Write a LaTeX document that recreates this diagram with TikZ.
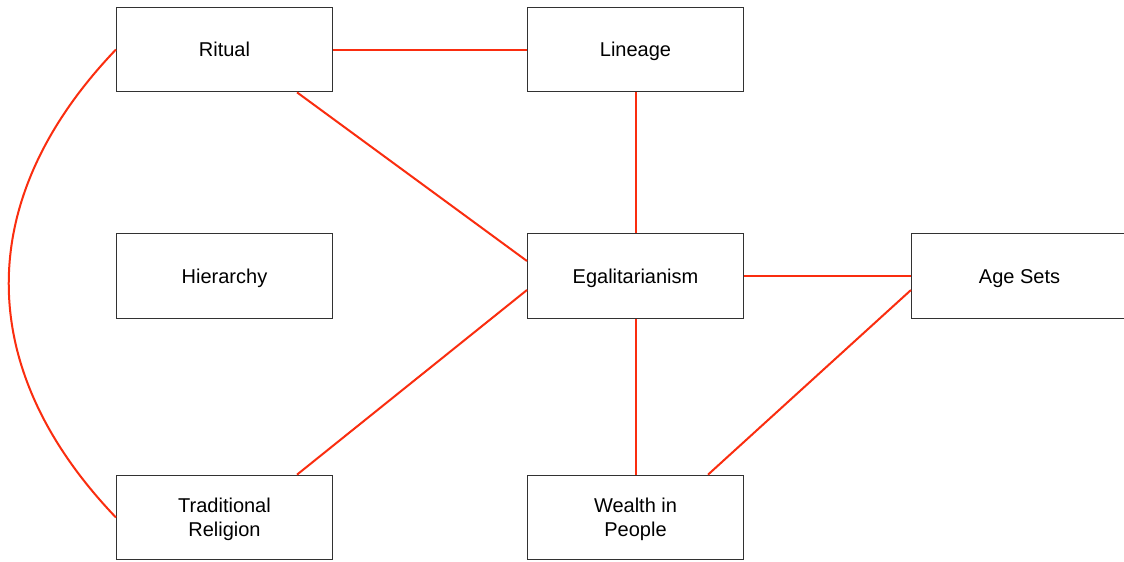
\documentclass[tikz,border=0pt]{standalone}
\usepackage{fontspec}
\setmainfont{Liberation Sans}
\definecolor{boxline}{RGB}{50,50,50}
\definecolor{linkred}{RGB}{250,45,15}
\begin{document}
\begin{tikzpicture}[x=0.75pt,y=-0.75pt,
  concept/.style={draw=boxline,line width=0.8pt,fill=white,minimum width=162pt,minimum height=63.5pt,
    inner sep=0pt,align=center,font=\fontsize{15pt}{18pt}\selectfont,text height=11pt,text depth=0pt},
  twoline/.style={text height=29pt,text depth=0pt},
  link/.style={draw=linkred,line width=1.5pt}]
\useasboundingbox (0,0) rectangle (1124,561);
\fill[white] (0,0) rectangle (1124,561);
\node[concept] (ritual) at (224.5,49.5) {Ritual};
\node[concept] (lineage) at (635.5,49.5) {Lineage};
\node[concept] (hier) at (224.5,276) {Hierarchy};
\node[concept] (egal) at (635.5,276) {Egalitarianism};
\node[concept] (age) at (1019.5,276) {Age Sets};
\node[concept,twoline] (trad) at (224.5,517.5) {Traditional\\Religion};
\node[concept,twoline] (wealth) at (635.5,517.5) {Wealth in\\People};
\draw[link] (ritual.east) -- (lineage.west);
\draw[link] ([xshift=-27pt]ritual.south east) -- ([yshift=11.25pt]egal.west);
\draw[link] (lineage.south) -- (egal.north);
\draw[link] (egal.east) -- (age.west);
\draw[link] ([yshift=-10.5pt]egal.west) -- ([xshift=-27pt]trad.north east);
\draw[link] (egal.south) -- (wealth.north);
\draw[link] ([yshift=-10.5pt]age.west) -- ([xshift=-27pt]wealth.north east);
\draw[link] (ritual.west) .. controls (-27,199) and (-27,368) .. (trad.west);
\end{tikzpicture}
\end{document}
